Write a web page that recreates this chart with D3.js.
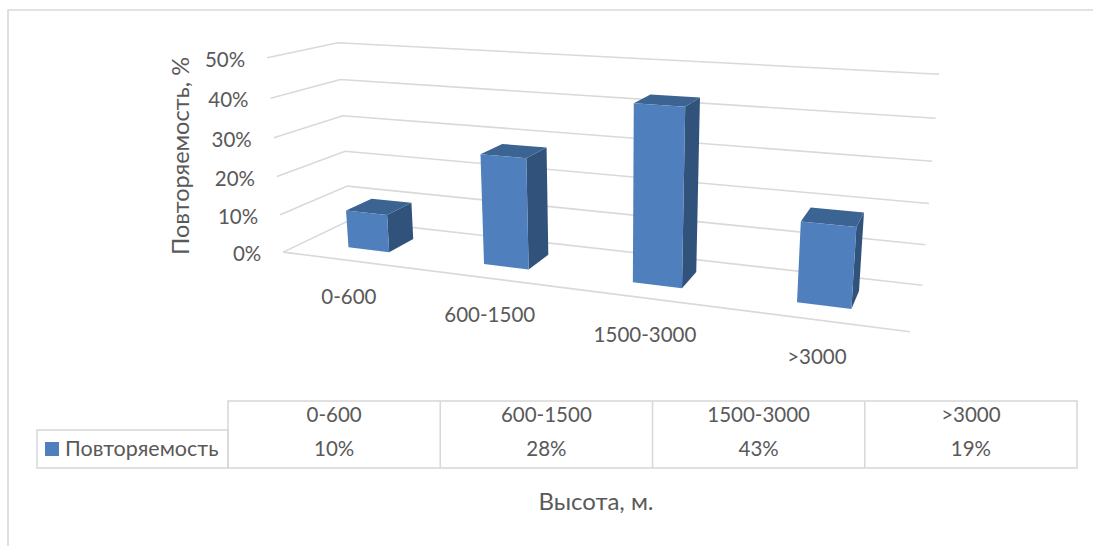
<!DOCTYPE html>
<html>
<head>
<meta charset="utf-8">
<script src="https://cdn.jsdelivr.net/npm/d3@7/dist/d3.min.js"></script>
<style>
html,body{margin:0;padding:0;background:#fff;overflow:hidden}
text{font-family:"Lato","Open Sans",sans-serif;fill:#595959}
</style>
</head>
<body>
<svg id="chart" width="1093" height="546"></svg>
<script>
// Chart content
const categories = ["0-600", "600-1500", "1500-3000", ">3000"];
const values = [10, 28, 43, 19];
const valueTicks = [0, 10, 20, 30, 40, 50];
const seriesName = "Повторяемость";
const yTitle = "Повторяемость, %";
const xTitle = "Высота, м.";

// Colours
const faceColor = "#4f80bd", sideColor = "#31527b", topColor = "#3c6492";
const gridColor = "#d9d9d9";

// Camera calibration: box corner (x along categories, z depth, value) -> screen
const cameraRefs = [
  [0,0,0,283,252],[0,0,10,280,214],[0,0,20,277,177],[0,0,30,274,138],[0,0,40,271,98],[0,0,50,267,58],
  [0,1,0,350,221],[0,1,10,348,186],[0,1,20,344,151],[0,1,30,343,116],[0,1,40,340,79],[0,1,50,338,43],
  [1,1,0,922,286],[1,1,10,926,244],[1,1,20,929,203],[1,1,30,932,161],[1,1,40,936,118],[1,1,50,939,75],
  [1,0,0,910,332]
];

// Least-squares fit of a 3x4 projective camera
function solve(A, b) {
  const n = b.length, M = A.map((r, i) => [...r, b[i]]);
  for (let c = 0; c < n; c++) {
    let p = c;
    for (let r = c + 1; r < n; r++) if (Math.abs(M[r][c]) > Math.abs(M[p][c])) p = r;
    [M[c], M[p]] = [M[p], M[c]];
    for (let r = 0; r < n; r++) {
      if (r === c) continue;
      const f = M[r][c] / M[c][c];
      for (let k = c; k <= n; k++) M[r][k] -= f * M[c][k];
    }
  }
  return M.map((r, i) => r[n] / r[i]);
}
function fitCamera(refs) {
  const rows = [], rhs = [];
  refs.forEach(([x, z, v, u, w]) => {
    const h = v / 50;
    rows.push([x, z, h, 1, 0, 0, 0, 0, -u * x, -u * z, -u * h]); rhs.push(u);
    rows.push([0, 0, 0, 0, x, z, h, 1, -w * x, -w * z, -w * h]); rhs.push(w);
  });
  const n = 11;
  const A = d3.range(n).map(i => d3.range(n).map(j => d3.sum(rows, r => r[i] * r[j])));
  const b = d3.range(n).map(i => d3.sum(rows, (r, k) => r[i] * rhs[k]));
  return solve(A, b);
}
const cam = fitCamera(cameraRefs);

// World scales
const xScale = d3.scaleBand().domain(categories).range([0, 1]).paddingInner(0.69).paddingOuter(0.345);
const zScale = d3.scaleBand().domain([seriesName]).range([0, 1]).padding(0.4286);
const vScale = d3.scaleLinear().domain([0, 50]).range([0, 1]);

function project(x, z, v) {
  const h = vScale(v);
  const d = cam[8] * x + cam[9] * z + cam[10] * h + 1;
  return [(cam[0] * x + cam[1] * z + cam[2] * h + cam[3]) / d,
          (cam[4] * x + cam[5] * z + cam[6] * h + cam[7]) / d];
}

const svg = d3.select("#chart");
const line = d3.line();

// Chart frame, left and top edges only
svg.append("path").attr("d", line([[8, 546], [8, 10], [1093, 10]]))
  .attr("fill", "none").attr("stroke", gridColor).attr("stroke-width", 1.6);

// Gridlines along the left wall and the back wall
const grid = svg.append("g").attr("fill", "none").attr("stroke", gridColor).attr("stroke-width", 1.6);
valueTicks.forEach(v => {
  grid.append("path").attr("d", line([project(0, 0, v), project(0, 1, v), project(1, 1, v)]));
});
grid.append("path").attr("d", line([project(0, 0, 0), project(1, 0, 0)]));

// Bars: one box per category
const zFront = zScale(seriesName), zBack = zFront + zScale.bandwidth();
const bars = svg.append("g").selectAll("g").data(categories.map((c, i) => ({c, v: values[i]}))).join("g");
const quad = pts => line(pts) + "Z";
bars.each(function(d) {
  const x0 = xScale(d.c), x1 = x0 + xScale.bandwidth(), g = d3.select(this);
  g.append("path").attr("fill", sideColor).attr("d", quad([
    project(x1, zFront, 0), project(x1, zBack, 0), project(x1, zBack, d.v), project(x1, zFront, d.v)]));
  g.append("path").attr("fill", topColor).attr("d", quad([
    project(x0, zFront, d.v), project(x1, zFront, d.v), project(x1, zBack, d.v), project(x0, zBack, d.v)]));
  g.append("path").attr("fill", faceColor).attr("d", quad([
    project(x0, zFront, 0), project(x1, zFront, 0), project(x1, zFront, d.v), project(x0, zFront, d.v)]));
});

// Value axis labels follow the front edge of the left wall
svg.append("g").selectAll("text").data(valueTicks).join("text")
  .attr("text-anchor", "end").attr("font-size", 20.5)
  .attr("x", v => project(0, 0, v)[0] - 22)
  .attr("y", v => project(0, 0, v)[1] + 9)
  .text(v => v + "%");

// Category labels sit below the front edge of the floor
svg.append("g").selectAll("text").data(categories).join("text")
  .attr("text-anchor", "middle").attr("font-size", 20.5)
  .attr("x", c => project(xScale(c) + xScale.bandwidth() / 2, 0, 0)[0])
  .attr("y", c => project(xScale(c) + xScale.bandwidth() / 2, 0, 0)[1] + 44)
  .text(c => c);

// Axis titles
svg.append("text").attr("font-size", 23.5).attr("text-anchor", "middle")
  .attr("transform", "translate(189,156) rotate(-90)").text(yTitle);
svg.append("text").attr("font-size", 24).attr("text-anchor", "middle")
  .attr("x", 596).attr("y", 510).text(xTitle);

// Data table below the plot
const colScale = d3.scaleBand().domain(categories).range([228, 1077]);
const rowTop = 401, rowMid = 430, rowBottom = 468, legendLeft = 37;
const table = svg.append("g").attr("fill", "none").attr("stroke", gridColor).attr("stroke-width", 1.6);
table.append("rect").attr("x", 228).attr("y", rowTop).attr("width", 849).attr("height", rowBottom - rowTop);
table.append("rect").attr("x", legendLeft).attr("y", rowMid).attr("width", 228 - legendLeft).attr("height", rowBottom - rowMid);
table.selectAll("line").data(categories.slice(1)).join("line")
  .attr("x1", c => colScale(c)).attr("x2", c => colScale(c)).attr("y1", rowTop).attr("y2", rowBottom);

const cx = c => colScale(c) + colScale.bandwidth() / 2;
svg.append("g").selectAll("text").data(categories).join("text")
  .attr("text-anchor", "middle").attr("font-size", 20.5)
  .attr("x", cx).attr("y", 422).text(c => c);
svg.append("g").selectAll("text").data(categories).join("text")
  .attr("text-anchor", "middle").attr("font-size", 20.5)
  .attr("x", cx).attr("y", 456).text((c, i) => values[i] + "%");

// Legend key inside the table
svg.append("rect").attr("x", 45).attr("y", 442).attr("width", 14).attr("height", 14).attr("fill", faceColor);
svg.append("text").attr("font-size", 21.5).attr("x", 65).attr("y", 456).text(seriesName);
</script>
</body>
</html>
